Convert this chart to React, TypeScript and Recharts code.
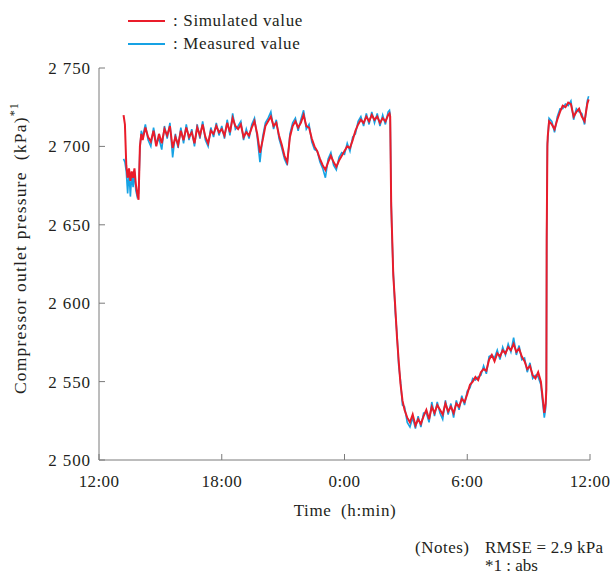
import { Label, Line, LineChart, XAxis, YAxis } from "recharts";

// time in minutes after 12:00 (day 1)
const minutes = [
  72, 76, 80, 84, 88, 92, 96, 100, 104, 108, 112, 116, 120, 124,
  128, 136, 144, 152, 160, 168, 176, 184, 192, 200,
  208, 216, 224, 232, 240, 248, 256, 264, 272, 280,
  288, 296, 304, 312, 320, 328, 336, 344, 352, 360,
  368, 376, 384, 392, 400, 408, 416, 424, 432, 440,
  448, 456, 464, 472, 480, 488, 496, 504, 512, 520,
  528, 536, 544, 552, 560, 568, 576, 584, 592, 600,
  608, 616, 624, 632, 640, 648, 656, 664, 672, 680,
  688, 696, 704, 712, 720, 728, 736, 744, 752, 760,
  768, 776, 784, 792, 800, 808, 816, 824, 832, 840,
  848,
  852, 854, 857, 859, 863, 869, 874, 879, 884, 890, 896, 904,
  912, 920, 928, 936, 944, 952, 960, 968, 976, 984,
  992, 1000, 1008, 1016, 1024, 1032, 1040, 1048, 1056, 1064,
  1072, 1080, 1088, 1096, 1104, 1112, 1120, 1128, 1136, 1144,
  1152, 1160, 1168, 1176, 1184, 1192, 1200, 1208, 1216, 1224,
  1232, 1240, 1248, 1256, 1264, 1272, 1280, 1288, 1296,
  1302, 1306, 1310, 1312, 1313, 1315, 1316, 1320,
  1328, 1336, 1344, 1352, 1360, 1368, 1376, 1384, 1392, 1400,
  1408, 1416, 1424, 1432, 1436,
];

const simulated = [
  2720, 2714, 2688, 2680, 2686, 2678, 2684, 2680, 2686, 2676, 2670, 2666, 2700, 2708,
  2704, 2712, 2706, 2703, 2710, 2700, 2708, 2702, 2711, 2707,
  2713, 2699, 2706, 2701, 2710, 2704, 2712, 2706, 2709, 2702,
  2712, 2707, 2714, 2706, 2702, 2710, 2708, 2713, 2709, 2711,
  2707, 2715, 2709, 2718, 2713, 2711, 2714, 2706, 2709, 2707,
  2712, 2716, 2708, 2696, 2704, 2713, 2716, 2719, 2713, 2715,
  2707, 2701, 2694, 2690, 2706, 2713, 2716, 2712, 2715, 2720,
  2713, 2712, 2705, 2700, 2697, 2692, 2688, 2685, 2690, 2694,
  2690, 2687, 2691, 2694, 2697, 2700, 2699, 2704, 2710, 2714,
  2717, 2715, 2719, 2716, 2720, 2717, 2719, 2715, 2718, 2716,
  2720,
  2721, 2719, 2662, 2648, 2618, 2597, 2578, 2563, 2549, 2538, 2532, 2527,
  2524, 2529, 2522, 2526, 2523, 2528, 2532, 2526, 2534, 2530,
  2535, 2532, 2529, 2536, 2531, 2534, 2530, 2536, 2534, 2539,
  2537, 2542, 2548, 2550, 2553, 2551, 2556, 2558, 2557, 2564,
  2567, 2563, 2568, 2566, 2570, 2568, 2572, 2570, 2574, 2569,
  2571, 2566, 2563, 2558, 2560, 2554, 2552, 2556, 2550,
  2538, 2530, 2536, 2545, 2640, 2700, 2706, 2716,
  2714, 2711, 2717, 2722, 2726, 2725, 2728, 2727, 2719, 2722,
  2724, 2719, 2716, 2727, 2730,
];

const measured = [
  2692, 2690, 2684, 2670, 2684, 2668, 2682, 2674, 2684, 2672, 2668, 2670, 2698, 2710,
  2706, 2714, 2704, 2700, 2712, 2702, 2705, 2698, 2713, 2705,
  2715, 2693, 2708, 2699, 2712, 2702, 2714, 2704, 2711, 2700,
  2714, 2705, 2716, 2704, 2700, 2712, 2706, 2715, 2707, 2713,
  2705, 2717, 2707, 2721, 2711, 2713, 2716, 2704, 2711, 2705,
  2714, 2718, 2706, 2690, 2706, 2715, 2718, 2722, 2711, 2717,
  2705, 2699, 2692, 2688, 2708, 2715, 2718, 2710, 2717, 2723,
  2711, 2714, 2703, 2698, 2697, 2690, 2686, 2680, 2692, 2696,
  2688, 2685, 2693, 2696, 2695, 2702, 2697, 2706, 2708, 2716,
  2719, 2713, 2721, 2714, 2722, 2715, 2721, 2713, 2720, 2714,
  2722,
  2723, 2720, 2665, 2645, 2620, 2594, 2580, 2560, 2551, 2535, 2534, 2524,
  2521, 2527, 2520, 2528, 2521, 2530, 2530, 2524, 2537, 2528,
  2537, 2530, 2526, 2538, 2529, 2536, 2527, 2538, 2532, 2541,
  2535, 2544, 2546, 2552, 2551, 2553, 2554, 2560, 2555, 2566,
  2567, 2565, 2570, 2564, 2572, 2567, 2574, 2569, 2578, 2567,
  2573, 2564, 2565, 2556, 2562, 2552, 2554, 2553, 2548,
  2535, 2527, 2533, 2550, 2645, 2702, 2704, 2718,
  2716, 2709, 2719, 2724, 2724, 2727, 2726, 2729, 2717, 2724,
  2722, 2721, 2714, 2729, 2732,
];

const timeTicks = [0, 360, 720, 1080, 1440];
const timeLabels = ["12:00", "18:00", "0:00", "6:00", "12:00"];
const pressureTicks = [2500, 2550, 2600, 2650, 2700, 2750];

const SIM_COLOR = "#ea1c2a";
const MEAS_COLOR = "#16a2e4";
const AXIS_COLOR = "#7a7a7a";
const TEXT_COLOR = "#231f20";
const FONT = '"Liberation Serif", "Times New Roman", serif';

const data = minutes.map((minute, i) => ({
  minute,
  simulated: simulated[i],
  measured: measured[i],
}));

function formatPressure(value: number): string {
  const s = String(value);
  return `${s.slice(0, 1)} ${s.slice(1)}`;
}

function TimeTick({ x, y, payload }: any) {
  const label = timeLabels[timeTicks.indexOf(payload.value)];
  return (
    <g>
      <line x1={x} y1={y} x2={x} y2={y - 6} stroke={AXIS_COLOR} />
      <text x={x} y={y + 27} textAnchor="middle" fontSize={17} letterSpacing={0.4} fill={TEXT_COLOR} fontFamily={FONT}>
        {label}
      </text>
    </g>
  );
}

function PressureTick({ x, y, payload }: any) {
  return (
    <g>
      <line x1={x} y1={y} x2={x + 6} y2={y} stroke={AXIS_COLOR} />
      <text x={x - 8} y={y + 6} textAnchor="end" fontSize={17} letterSpacing={0.9} fill={TEXT_COLOR} fontFamily={FONT}>
        {formatPressure(payload.value)}
      </text>
    </g>
  );
}

function PressureTitle() {
  return (
    <text
      transform="translate(26, 248) rotate(-90)"
      textAnchor="middle"
      fontSize={17.5}
      letterSpacing={1.2}
      fill={TEXT_COLOR}
      fontFamily={FONT}
    >
      Compressor outlet pressure{"\u00a0\u00a0"}(kPa)
      <tspan fontSize={12} dy={-8}>*1</tspan>
    </text>
  );
}

function TimeTitle() {
  return (
    <text x={345} y={516} textAnchor="middle" fontSize={17} letterSpacing={0.6} fill={TEXT_COLOR} fontFamily={FONT}>
      Time{"\u00a0\u00a0"}(h:min)
    </text>
  );
}

export default function App() {
  const textStyle = {
    position: "absolute" as const,
    fontFamily: FONT,
    fontSize: 17,
    color: TEXT_COLOR,
    lineHeight: "18px",
    whiteSpace: "nowrap" as const,
  };
  return (
    <div style={{ position: "absolute", left: 0, top: 0, width: 613, height: 576, background: "#fff" }}>
      <LineChart width={613} height={576} data={data} margin={{ top: 68, right: 23, bottom: 86, left: 59 }}>
        <XAxis
          dataKey="minute"
          type="number"
          domain={[0, 1440]}
          ticks={timeTicks}
          tick={<TimeTick />}
          tickSize={0}
          tickMargin={0}
          height={30}
          stroke={AXIS_COLOR}
          allowDataOverflow
        >
          <Label content={<TimeTitle />} />
        </XAxis>
        <YAxis
          type="number"
          domain={[2500, 2750]}
          ticks={pressureTicks}
          tick={<PressureTick />}
          tickSize={0}
          tickMargin={0}
          width={40}
          stroke={AXIS_COLOR}
          allowDataOverflow
        >
          <Label content={<PressureTitle />} />
        </YAxis>
        <Line
          dataKey="measured"
          stroke={MEAS_COLOR}
          strokeWidth={1.6}
          dot={false}
          isAnimationActive={false}
        />
        <Line
          dataKey="simulated"
          stroke={SIM_COLOR}
          strokeWidth={2}
          dot={false}
          isAnimationActive={false}
        />
      </LineChart>

      {/* legend */}
      <div style={{ position: "absolute", left: 128, top: 20, width: 37, height: 1.5, background: SIM_COLOR }} />
      <div style={{ ...textStyle, left: 173, top: 12, letterSpacing: 0.65 }}>: Simulated value</div>
      <div style={{ position: "absolute", left: 128, top: 43, width: 37, height: 1.5, background: MEAS_COLOR }} />
      <div style={{ ...textStyle, left: 173, top: 35, letterSpacing: 0.65 }}>: Measured value</div>

      {/* notes */}
      <div style={{ ...textStyle, left: 415, top: 539, letterSpacing: 0.5 }}>(Notes)</div>
      <div style={{ ...textStyle, left: 485, top: 539, letterSpacing: 0.2 }}>RMSE = 2.9 kPa</div>
      <div style={{ ...textStyle, left: 485, top: 557 }}>*1 : abs</div>
    </div>
  );
}
